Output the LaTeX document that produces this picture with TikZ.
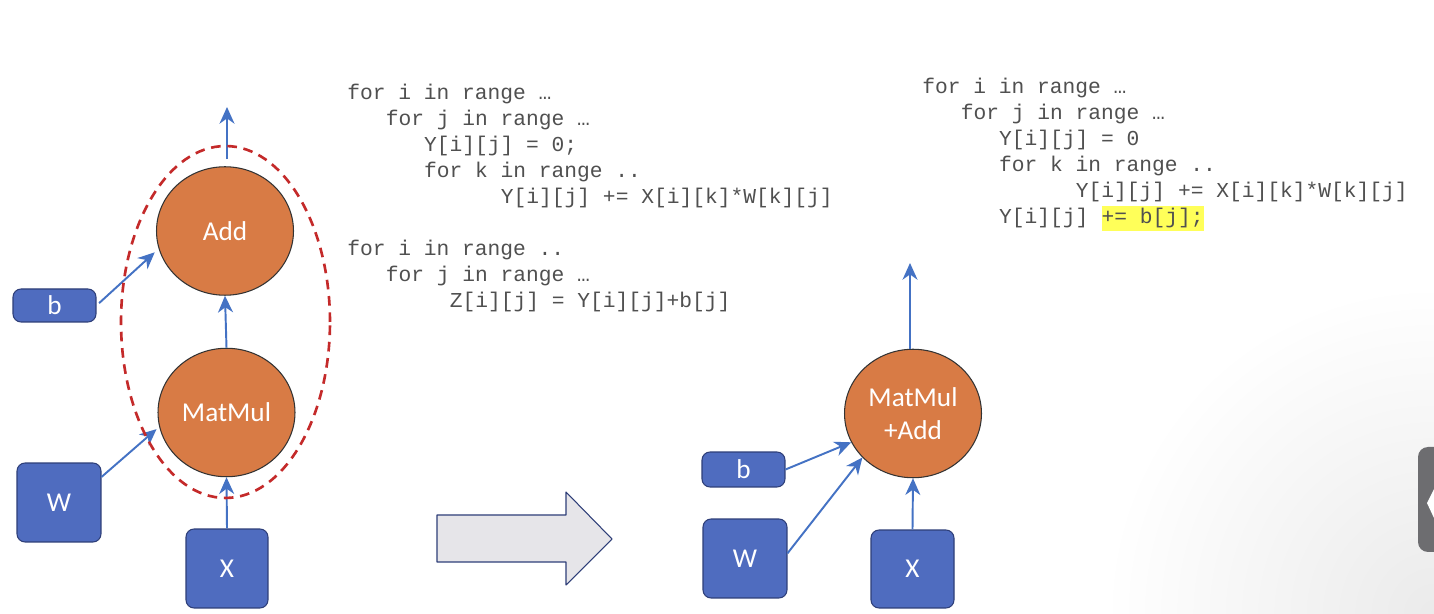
\documentclass[tikz,border=0pt]{standalone}
\usepackage{fontspec}
\setmainfont{Carlito}
\newfontfamily\codefont{Liberation Mono}
\usetikzlibrary{arrows.meta,shapes.geometric}
\definecolor{opfill}{HTML}{D87B45}
\definecolor{tensorfill}{HTML}{4F6CBF}
\definecolor{tensordraw}{HTML}{2E3E78}
\definecolor{flowblue}{HTML}{4472C4}
\definecolor{fusered}{HTML}{C42A2A}
\definecolor{codegray}{HTML}{505050}
\definecolor{hilite}{HTML}{FFFF59}
\definecolor{bigarrowfill}{HTML}{E6E5E9}
\definecolor{uigray}{HTML}{6D6D70}
\tikzset{
	op/.style={ellipse,fill=opfill,draw=black!80,line width=0.6pt,minimum width=2.74cm,minimum height=2.57cm,inner sep=0pt,text=white,align=center,font=\fontsize{15.5}{18.7}\selectfont},
	tensorbox/.style={rectangle,rounded corners=0.16cm,fill=tensorfill,draw=tensordraw,line width=0.6pt,minimum width=1.66cm,minimum height=1.58cm,inner sep=0pt,text=white,font=\fontsize{15.5}{18.7}\selectfont},
	flow/.style={draw=flowblue,line width=1.1pt,-{Stealth[length=9.5pt,width=8.5pt,inset=3pt]}},
	fuse/.style={ellipse,draw=fusered,line width=1.5pt,dash pattern=on 5.5pt off 3.8pt,minimum width=4.18cm,minimum height=7.04cm,inner sep=0pt},
	code/.style={font=\codefont\fontsize{12.1}{14.5}\selectfont,text=codegray,inner sep=0pt,anchor=base west}
}
\begin{document}
\begin{tikzpicture}[x=0.02cm,y=-0.02cm,line join=round]
	\fill[white] (0,0) rectangle (1434,614);
	\useasboundingbox (0,0) rectangle (1434,614);
	\begin{scope}
		\clip (0,0) rectangle (1434,614);
		\shade[inner color=black!8,outer color=white] (1434,614) circle (330);
		\fill[uigray,rounded corners=0.2cm] (1418,447) rectangle (1460,552);
		\fill[white] (1434,489)--(1427,503)--(1434,518)--cycle;
	\end{scope}
	% unfused graph
	\node[op] (Add) at (225,231) {Add};
	\node[op] (MatMul) at (226.5,412.5) {MatMul};
	\node[tensorbox,minimum width=1.66cm,minimum height=0.66cm] (b) at (54.5,305.5) {b};
	\node[tensorbox,minimum width=1.68cm] (W) at (59,502.5) {W};
	\node[tensorbox,minimum width=1.64cm] (X) at (227,568.5) {X};
	\coordinate (out1) at (227,107);
	\draw[flow] (X.north) -- (MatMul.south);
	\draw[flow,shorten >=2pt] (W.31) -- (MatMul.192);
	\draw[flow] (MatMul.north) -- (Add.south);
	\draw[flow,shorten <=2pt,shorten >=3pt] (b.east) -- (Add.195);
	\draw[flow,shorten <=4pt] (Add.north -| out1) -- (out1);
	\node[fuse] (fused) at (225.5,322) {};
	% fusion arrow
	\draw[draw=tensordraw,line width=0.6pt,fill=bigarrowfill] (437,515)--(566,515)--(566,492)--(612,539)--(566,585)--(566,562)--(437,562)--cycle;
	% fused graph
	\node[op] (MatMulAdd) at (913,413.5) {MatMul\\+Add};
	\node[tensorbox,minimum width=1.66cm,minimum height=0.7cm] (b2) at (743.5,469.5) {b};
	\node[tensorbox,minimum width=1.68cm] (W2) at (745,558.5) {W};
	\node[tensorbox,minimum width=1.66cm,minimum height=1.56cm] (X2) at (912.5,569) {X};
	\coordinate (out2) at (910,263);
	\draw[flow] (X2.north) -- (MatMulAdd.south);
	\draw[flow] (b2.east) -- (MatMulAdd.205);
	\draw[flow] (W2.7) -- (MatMulAdd.221);
	\draw[flow] (MatMulAdd.north -| out2) -- (out2);
	% code
	\foreach \n/\k/\txt in {0/0/{for i in range …},1/3/{for j in range …},2/6/{Y[i][j] = 0;},3/6/{for k in range ..},4/12/{Y[i][j] += X[i][k]*W[k][j]},6/0/{for i in range ..},7/3/{for j in range …},8/8/{Z[i][j] = Y[i][j]+b[j]}}
		\node[code] (codeA\n) at (347+12.8*\k,100+26*\n) {\txt};
	\foreach \n/\k/\txt in {0/0/{for i in range …},1/3/{for j in range …},2/6/{Y[i][j] = 0},3/6/{for k in range ..},4/12/{Y[i][j] += X[i][k]*W[k][j]},5/6/{Y[i][j]}}
		\node[code] (codeB\n) at (922+12.8*\k,94+26*\n) {\txt};
	\node[code,fill=hilite,text height=0.36cm,text depth=0.14cm] (bias) at (922+12.8*14,224) {+= b[j];};
\end{tikzpicture}
\end{document}
